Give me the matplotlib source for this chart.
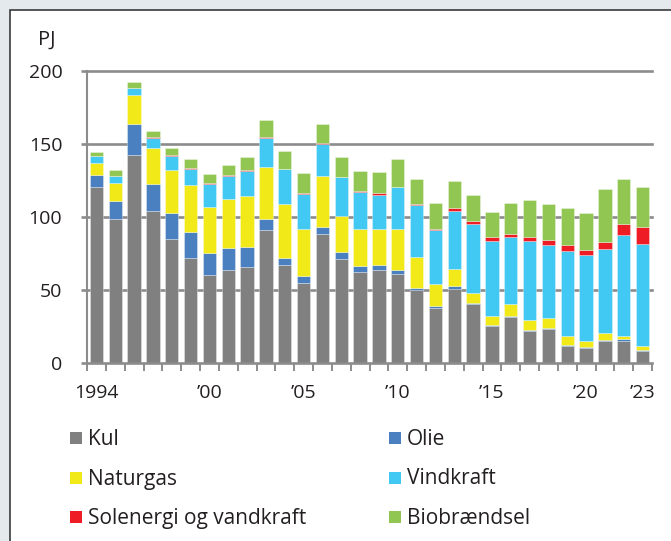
import numpy as np
import matplotlib.pyplot as plt
from matplotlib.patches import Rectangle

plt.rcParams['font.family'] = ['Open Sans', 'DejaVu Sans']

years = list(range(1994, 2024))
tick_years = [1994, 2000, 2005, 2010, 2015, 2020, 2023]
tick_labels = ['1994', '\u201900', '\u201905', '\u201910', '\u201915', '\u201920', '\u201923']

kul = [120.3, 98.4, 142.8, 103.9, 84.7, 71.8, 60.1, 63.6, 65.6, 90.9,
       67.0, 55.1, 88.2, 71.5, 62.6, 63.6, 60.8, 49.9, 38.0, 51.0,
       40.2, 25.1, 31.5, 21.7, 23.5, 11.4, 10.5, 15.3, 15.1, 8.2]
olie = [8.4, 12.3, 20.8, 18.7, 18.0, 17.9, 15.3, 15.2, 14.1, 8.0,
        5.2, 4.8, 5.2, 4.6, 3.5, 3.4, 2.8, 1.6, 1.2, 1.4,
        0.6, 0.7, 0.7, 0.7, 0.7, 0.7, 0.7, 0.7, 1.6, 0.9]
naturgas = [8.3, 12.8, 20.0, 25.0, 29.2, 32.2, 31.7, 33.7, 34.9, 35.5,
            36.9, 31.9, 34.8, 24.8, 25.7, 24.8, 28.2, 21.4, 15.2, 12.1,
            6.9, 6.6, 8.4, 7.3, 6.4, 6.6, 3.6, 4.3, 2.0, 2.3]
vindkraft = [5.0, 4.7, 4.8, 6.8, 10.0, 10.9, 15.7, 15.7, 17.1, 20.0,
             23.5, 23.9, 21.9, 26.4, 25.5, 23.5, 28.5, 35.3, 36.5, 39.7,
             47.5, 51.2, 45.5, 53.9, 50.0, 58.0, 59.4, 57.6, 69.2, 70.1]
sol_vand = [0.1, 0.1, 0.1, 0.4, 0.5, 0.9, 0.2, 0.4, 0.4, 0.4,
            0.4, 0.4, 0.3, 0.4, 0.4, 1.1, 0.4, 0.4, 0.9, 1.8,
            2.1, 2.5, 2.5, 2.5, 3.6, 3.9, 3.4, 5.2, 7.3, 11.7]
bio = [2.4, 3.7, 4.3, 4.4, 4.8, 6.2, 6.2, 6.7, 8.7, 11.5,
       12.3, 13.7, 13.2, 13.1, 14.0, 14.4, 19.2, 17.6, 18.0, 18.4,
       18.0, 17.3, 21.2, 25.3, 24.7, 25.3, 24.9, 35.9, 30.8, 27.3]

series = [
    ('Kul', kul, '#808080'),
    ('Olie', olie, '#4a80c0'),
    ('Naturgas', naturgas, '#f2e918'),
    ('Vindkraft', vindkraft, '#41c8f3'),
    ('Solenergi og vandkraft', sol_vand, '#ee1c25'),
    ('Biobrændsel', bio, '#92c653'),
]

W, H = 671, 541
fig = plt.figure(figsize=(W / 100, H / 100), dpi=100)
fig.patch.set_facecolor('#e4e9ee')
# white panel with dark border top/left
fig.patches.append(Rectangle((10 / W, -0.05), 1.1, 1.05 - 10 / H, transform=fig.transFigure,
                             facecolor='white', edgecolor='#3a3a3a', lw=1.2, zorder=-10))

ax = fig.add_axes([87 / W, 1 - 363 / H, 565 / W, 292 / H])
ax.set_facecolor('none')
grey = '#8c8c8c'
txt = '#231f20'

x = np.arange(len(years))
bottom = np.zeros(len(years))
for name, vals, col in series:
    ax.bar(x, vals, 0.7, bottom=bottom, color=col, edgecolor=(1, 1, 1, 0.45),
           linewidth=0.5, label=name, zorder=2)
    bottom += np.array(vals)

for yv in [50, 100, 150, 200]:
    ax.axhline(yv, color=grey, lw=1.9, zorder=0.5, clip_on=False)

ax.set_xlim(-0.5, len(years) - 0.5)
ax.set_ylim(0, 200)
ax.set_yticks([0, 50, 100, 150, 200])
ax.tick_params(axis='y', length=4.3, width=1.9, color=grey, pad=13.5,
               labelsize=14, labelcolor=txt)

ax.set_xticks(np.arange(len(years) + 1) - 0.5)
ax.set_xticklabels([])
ax.tick_params(axis='x', which='major', length=5.8, width=1.4, color=grey)
ax.set_xticks([years.index(y) for y in tick_years], minor=True)
ax.set_xticklabels(tick_labels, minor=True)
ax.tick_params(axis='x', which='minor', length=0, pad=15, labelsize=14, labelcolor=txt)

for s in ['top', 'right']:
    ax.spines[s].set_visible(False)
ax.spines['left'].set_color(grey)
ax.spines['left'].set_linewidth(1.5)
ax.spines['bottom'].set_color(grey)
ax.spines['bottom'].set_linewidth(1.9)

fig.text(38 / W, 1 - 45 / H, 'PJ', fontsize=14.5, color=txt, ha='left', va='baseline')

# legend, two columns
order = [0, 2, 4, 1, 3, 5]
col_x = [70, 389]
row_base = [445, 484.5, 524]
for k, idx in enumerate(order):
    name, _, col = series[idx]
    cx = col_x[k // 3]
    by = row_base[k % 3]
    fig.patches.append(Rectangle((cx / W, 1 - (by - 1) / H), 12 / W, 12 / H,
                                 transform=fig.transFigure, facecolor=col, edgecolor='none'))
    fig.text((cx + 18) / W, 1 - by / H, name, fontsize=15, color=txt,
             ha='left', va='baseline')

fig.savefig('out.png', dpi=100, facecolor=fig.get_facecolor())
